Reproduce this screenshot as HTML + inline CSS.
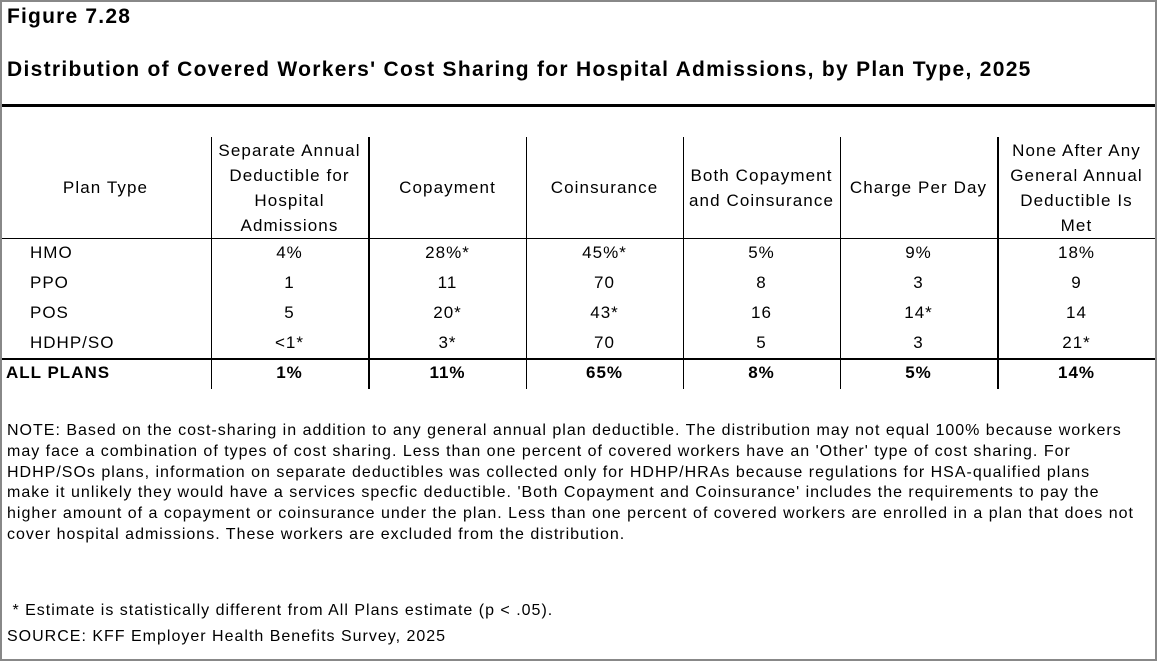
<!DOCTYPE html>
<html><head><meta charset="utf-8"><style>
*{margin:0;padding:0;box-sizing:border-box}
body{width:1157px;height:661px;background:#fff;font-family:"Liberation Sans",Arial,sans-serif;color:#000;position:relative;overflow:hidden}
.frame{position:absolute;left:0;top:0;width:1157px;height:661px;border:2px solid #888}
.t{position:absolute;white-space:nowrap}
.hl{position:absolute;background:#000}
.c{position:absolute;text-align:center;font-size:17px;letter-spacing:1.1px;line-height:25px;white-space:nowrap}
.cell{position:absolute;text-align:center;font-size:17px;letter-spacing:1px;height:30px;line-height:30px;white-space:nowrap}
.note{position:absolute;left:7px;font-size:16px;letter-spacing:1px;line-height:20.8px;width:1150px;white-space:nowrap}
</style></head><body>
<div class="frame"></div>
<div class="t" style="left:7px;top:5px;font-size:21px;letter-spacing:1.2px;font-weight:bold">Figure 7.28</div>
<div class="t" style="left:7px;top:58px;font-size:21px;letter-spacing:1.3px;font-weight:bold">Distribution of Covered Workers' Cost Sharing for Hospital Admissions, by Plan Type, 2025</div>
<div class="hl" style="left:2px;top:104px;width:1153px;height:3px"></div>
<div class="hl" style="left:2px;top:238px;width:1153px;height:1px"></div>
<div class="hl" style="left:2px;top:358px;width:1153px;height:2px"></div>
<div class="hl" style="left:211px;top:137px;width:1px;height:252px"></div>
<div class="hl" style="left:368px;top:137px;width:2px;height:252px"></div>
<div class="hl" style="left:526px;top:137px;width:1px;height:252px"></div>
<div class="hl" style="left:683px;top:137px;width:1px;height:252px"></div>
<div class="hl" style="left:840px;top:137px;width:1px;height:252px"></div>
<div class="hl" style="left:997px;top:137px;width:2px;height:252px"></div>

<div class="c" style="left:0;width:211px;top:175px">Plan Type</div>
<div class="c" style="left:211px;width:157px;top:138px">Separate Annual<br>Deductible for<br>Hospital<br>Admissions</div>
<div class="c" style="left:369px;width:157px;top:175px">Copayment</div>
<div class="c" style="left:526px;width:157px;top:175px">Coinsurance</div>
<div class="c" style="left:683px;width:157px;top:163px">Both Copayment<br>and Coinsurance</div>
<div class="c" style="left:840px;width:157px;top:175px">Charge Per Day</div>
<div class="c" style="left:998px;width:157px;top:138px">None After Any<br>General Annual<br>Deductible Is<br>Met</div>

<div style="position:absolute;top:238px;left:0;width:1157px">
<div class="cell" style="left:30px;top:0;text-align:left">HMO</div>
<div class="cell" style="left:30px;top:30px;text-align:left">PPO</div>
<div class="cell" style="left:30px;top:60px;text-align:left">POS</div>
<div class="cell" style="left:30px;top:90px;text-align:left">HDHP/SO</div>
<div class="cell" style="left:6px;top:120px;text-align:left;font-weight:bold">ALL PLANS</div>
</div>
<div style="position:absolute;top:238px;left:211px">
<div class="cell" style="left:0;width:157px;top:0">4%</div><div class="cell" style="left:0;width:157px;top:30px">1</div><div class="cell" style="left:0;width:157px;top:60px">5</div><div class="cell" style="left:0;width:157px;top:90px">&lt;1*</div><div class="cell" style="left:0;width:157px;top:120px;font-weight:bold">1%</div>
<div class="cell" style="left:158px;width:157px;top:0">28%*</div><div class="cell" style="left:158px;width:157px;top:30px">11</div><div class="cell" style="left:158px;width:157px;top:60px">20*</div><div class="cell" style="left:158px;width:157px;top:90px">3*</div><div class="cell" style="left:158px;width:157px;top:120px;font-weight:bold">11%</div>
<div class="cell" style="left:315px;width:157px;top:0">45%*</div><div class="cell" style="left:315px;width:157px;top:30px">70</div><div class="cell" style="left:315px;width:157px;top:60px">43*</div><div class="cell" style="left:315px;width:157px;top:90px">70</div><div class="cell" style="left:315px;width:157px;top:120px;font-weight:bold">65%</div>
<div class="cell" style="left:472px;width:157px;top:0">5%</div><div class="cell" style="left:472px;width:157px;top:30px">8</div><div class="cell" style="left:472px;width:157px;top:60px">16</div><div class="cell" style="left:472px;width:157px;top:90px">5</div><div class="cell" style="left:472px;width:157px;top:120px;font-weight:bold">8%</div>
<div class="cell" style="left:629px;width:157px;top:0">9%</div><div class="cell" style="left:629px;width:157px;top:30px">3</div><div class="cell" style="left:629px;width:157px;top:60px">14*</div><div class="cell" style="left:629px;width:157px;top:90px">3</div><div class="cell" style="left:629px;width:157px;top:120px;font-weight:bold">5%</div>
<div class="cell" style="left:787px;width:157px;top:0">18%</div><div class="cell" style="left:787px;width:157px;top:30px">9</div><div class="cell" style="left:787px;width:157px;top:60px">14</div><div class="cell" style="left:787px;width:157px;top:90px">21*</div><div class="cell" style="left:787px;width:157px;top:120px;font-weight:bold">14%</div>
</div>

<div class="note" style="top:421px">NOTE: Based on the cost-sharing in addition to any general annual plan deductible. The distribution may not equal 100% because workers<br>may face a combination of types of cost sharing. Less than one percent of covered workers have an 'Other' type of cost sharing. For<br>HDHP/SOs plans, information on separate deductibles was collected only for HDHP/HRAs because regulations for HSA-qualified plans<br>make it unlikely they would have a services specfic deductible. 'Both Copayment and Coinsurance' includes the requirements to pay the<br>higher amount of a copayment or coinsurance under the plan. Less than one percent of covered workers are enrolled in a plan that does not<br>cover hospital admissions. These workers are excluded from the distribution.</div>
<div class="note" style="top:601px">&nbsp;* Estimate is statistically different from All Plans estimate (p &lt; .05).</div>
<div class="note" style="top:627px">SOURCE: KFF Employer Health Benefits Survey, 2025</div>
</body></html>
